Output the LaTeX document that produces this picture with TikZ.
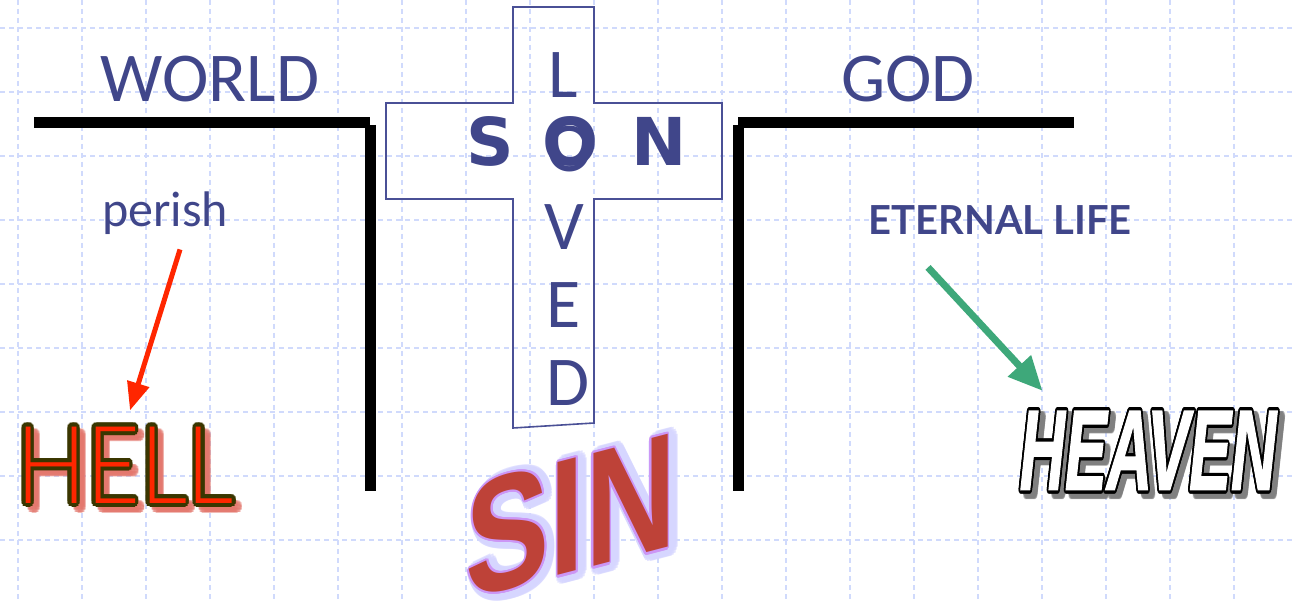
\documentclass[tikz,border=0pt]{standalone}
\usepackage{fontspec}
\setmainfont{Carlito}
\newfontfamily\latofont{Lato}
\newfontfamily\dejafont{DejaVu Sans}
\newfontfamily\heavyfont{Liberation Sans}
\newfontface\heavenfont{Liberation Sans Bold Italic}[FakeBold=1.5]
\IfFontExistsTF{Lato Light}{\newfontfamily\thinfont{Lato Light}}{\newfontfamily\thinfont{Carlito}}
\usepackage[copies]{contour}
\usetikzlibrary{arrows.meta, calc}

\definecolor{textblue}{RGB}{64,70,138}
\definecolor{crossblue}{RGB}{74,80,150}
\definecolor{gridblue}{RGB}{208,218,252}
\definecolor{hellred}{RGB}{255,38,0}
\definecolor{helledge}{RGB}{58,54,0}
\definecolor{hellglow}{RGB}{228,120,110}
\definecolor{arrowgreen}{RGB}{62,168,122}
\definecolor{sinred}{RGB}{190,66,56}
\definecolor{sinedge}{RGB}{204,150,246}
\definecolor{singlow}{RGB}{214,214,255}

\begin{document}
\begin{tikzpicture}[transform shape, x=0.5pt, y=-0.5pt,
	gridline/.style={draw=gridblue, line width=0.7pt, dash pattern=on 2.5pt off 2pt},
	wall/.style={draw=black, line width=5.5pt},
	crossline/.style={draw=crossblue, line width=0.8pt},
	bluetext/.style={text=textblue, inner sep=0pt, anchor=base},
	letter/.style={bluetext, font=\fontsize{35}{35}\selectfont},
	bigletter/.style={bluetext, font=\dejafont\bfseries\fontsize{33}{33}\selectfont},
	redarrow/.style={draw=hellred, line width=2.5pt, -{Triangle[length=14pt, width=11pt]}},
	greenarrow/.style={draw=arrowgreen, line width=3.5pt, -{Triangle[length=17pt, width=15pt]}}]
	% Paths, nodes and wires:
	\fill[white] (0,0) rectangle (1293,603);
	\useasboundingbox (0,0) rectangle (1293,603);
	\foreach \gx in {18,82,...,1234} \draw[gridline] (\gx,0) -- (\gx,603);
	\foreach \gy in {28,92,...,540} \draw[gridline] (0,\gy) -- (1293,\gy);
	\draw[wall] (34,123) -- (370,123);
	\draw[wall] (370,125) -- (370,491);
	\draw[wall] (738,123) -- (1074,123);
	\draw[wall] (738,125) -- (738,491);
	\draw[crossline] (513,7) -- (594,7) -- (594,103) -- (722,103) -- (722,199) -- (594,199) -- (594,423) -- (513,428) -- (513,199) -- (386,199) -- (386,103) -- (513,103) -- cycle;
	\node[bluetext, font=\fontsize{35}{35}\selectfont] (world) at (210,102){WORLD};
	\node[bluetext, font=\fontsize{35}{35}\selectfont] (god) at (908,102){GOD};
	\node[bluetext, font=\fontsize{25}{25}\selectfont] (perish) at (165,227){perish};
	\node[bluetext, font=\latofont\bfseries\fontsize{20}{20}\selectfont] (eternal) at (1000,235){ETERNAL LIFE};
	\node[letter] (loveL) at (563,98){L};
	\node[letter] (loveO) at (570,172){O};
	\node[letter] (loveV) at (564,250){V};
	\node[letter] (loveE) at (564,328){E};
	\node[letter] (loveD) at (568,405){D};
	\node[bigletter] (sonS) at (490,166){S};
	\node[bigletter] (sonO) at (571,166){O};
	\node[bigletter] (sonN) at (659,166){N};
	\node[inner sep=0pt, text=hellglow, opacity=0.5, xscale=0.86, font=\thinfont\fontsize{54}{54}\selectfont] at (131,473){\contourlength{2pt}\contour{hellglow}{HELL}};
	\node[inner sep=0pt, text=hellred, xscale=0.86, font=\thinfont\fontsize{54}{54}\selectfont] (hell) at (125,467){\contourlength{2pt}\contour{helledge}{HELL}};
	\node[inner sep=0pt, text=singlow, opacity=0.7, xscale=0.77, yslant=0.2, font=\heavyfont\bfseries\fontsize{82}{82}\selectfont] at (575,521){\contourlength{4pt}\contour{singlow}{SIN}};
	\node[inner sep=0pt, text=sinred, xscale=0.77, yslant=0.2, font=\heavyfont\bfseries\fontsize{82}{82}\selectfont] (sin) at (571,517){\contourlength{1.2pt}\contour{sinedge}{SIN}};
	\node[inner sep=0pt, text=gray, opacity=0.5, xscale=0.55, font=\heavenfont\fontsize{57}{57}\selectfont] at (1153,457){\contourlength{2pt}\contour{gray}{HEAVEN}};
	\node[inner sep=0pt, text=white, xscale=0.55, font=\heavenfont\fontsize{57}{57}\selectfont] (heaven) at (1148,452){\contourlength{1.6pt}\contour{black}{HEAVEN}};
	\draw[redarrow] ($(perish.south)+(15,14)$) -- ($(hell.north)+(5,-16)$);
	\draw[greenarrow] ($(eternal.south)+(-72,32)$) -- ($(heaven.north west)+(23,-20)$);
\end{tikzpicture}
\end{document}
